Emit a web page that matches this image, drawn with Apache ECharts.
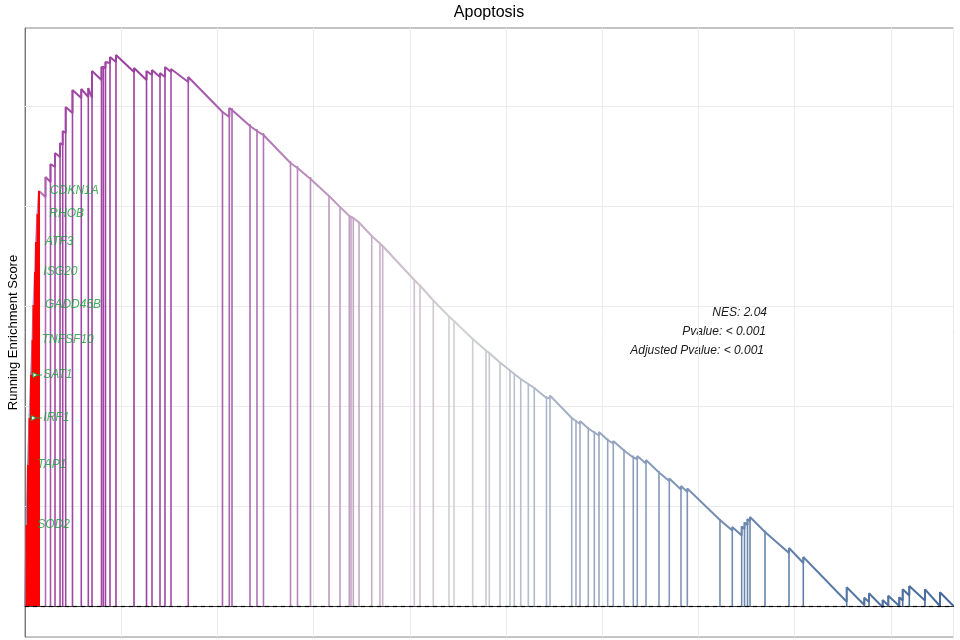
<!DOCTYPE html>
<html>
<head>
<meta charset="utf-8">
<title>Apoptosis</title>
<script src="https://cdn.jsdelivr.net/npm/echarts@6/dist/echarts.min.js"></script>
<style>
  html, body { margin: 0; padding: 0; background: #fff; }
  #main { width: 960px; height: 640px; }
</style>
</head>
<body>
<div id="main"></div>
<script>
// positions of the gene set members in the ranked list
const hitRank = [31, 62, 94, 125, 156, 177, 208, 229, 260, 291,
  426, 530, 624, 728, 784, 846, 987, 1170, 1316, 1393,
  1590, 1628, 1673, 1767, 1891, 2266, 2526, 2640, 2806, 2910,
  3035, 3394, 4105, 4247, 4303, 4677, 4822, 4957, 5519, 5664,
  5934, 6319, 6548, 6741, 6776, 6824, 6943, 7207, 7379, 7435,
  8092, 8210, 8487, 8813, 8917, 9306, 9582, 9651, 9873, 10081,
  10171, 10304, 10462, 10586, 10840, 10913, 11364, 11453, 11536, 11709,
  11834, 11931, 12112, 12228, 12451, 12644, 12727, 12908, 13178, 13392,
  13636, 13767, 14446, 14702, 14897, 14956, 15018, 15070, 15382, 15881,
  16178, 17080, 17446, 17544, 17828, 17945, 18173, 18244, 18381, 18707, 19019]
// running score just before each hit
const esPre = [0, 0.080, 0.140, 0.186, 0.229, 0.265, 0.300, 0.333, 0.363, 0.391,
  0.409, 0.424, 0.439, 0.449, 0.461, 0.473, 0.493, 0.508, 0.509, 0.508,
  0.526, 0.538, 0.538, 0.543, 0.544, 0.534, 0.526, 0.531, 0.529, 0.529,
  0.534, 0.524, 0.494, 0.489, 0.496, 0.480, 0.475, 0.471, 0.443, 0.438,
  0.427, 0.410, 0.399, 0.390, 0.3895, 0.388, 0.3835, 0.370, 0.3625, 0.360,
  0.326, 0.3205, 0.3055, 0.2895, 0.285, 0.267, 0.2555, 0.253, 0.2435, 0.2355,
  0.232, 0.227, 0.222, 0.218, 0.208, 0.208, 0.188, 0.185, 0.182, 0.1775,
  0.1735, 0.1705, 0.166, 0.1625, 0.1555, 0.1485, 0.147, 0.1425, 0.1335, 0.125,
  0.1165, 0.114, 0.086, 0.0755, 0.0705, 0.077, 0.081, 0.085, 0.074, 0.053,
  0.043, 0.0043, 0.001, 0.004, -0.0013, 0.0005, 0.000, 0.0055, 0.0105, 0.0055, 0.000]
// running score right after each hit
const esPeak = [0.081, 0.141, 0.188, 0.231, 0.266, 0.301, 0.334, 0.364, 0.392, 0.415,
  0.429, 0.442, 0.453, 0.463, 0.475, 0.499, 0.516, 0.517, 0.518, 0.535,
  0.539, 0.540, 0.544, 0.549, 0.551, 0.538, 0.535, 0.536, 0.533, 0.539,
  0.537, 0.529, 0.495, 0.498, 0.498, 0.482, 0.477, 0.473, 0.445, 0.440,
  0.429, 0.411, 0.400, 0.391, 0.390, 0.389, 0.3845, 0.371, 0.3635, 0.3605,
  0.327, 0.321, 0.306, 0.290, 0.286, 0.268, 0.256, 0.2535, 0.244, 0.236,
  0.2325, 0.2275, 0.2225, 0.219, 0.210, 0.2105, 0.189, 0.186, 0.185, 0.179,
  0.175, 0.174, 0.1675, 0.165, 0.157, 0.1505, 0.150, 0.146, 0.135, 0.1275,
  0.120, 0.1175, 0.087, 0.079, 0.0795, 0.0835, 0.087, 0.089, 0.0755, 0.058,
  0.049, 0.0187, 0.0083, 0.0127, 0.006, 0.0103, 0.0087, 0.0167, 0.020, 0.0167, 0.0137]
const rankMax = 19300
// core genes, in the order of their hits
const leadGenes = ['SOD2', 'TAP1', 'IRF1', 'SAT1', 'TNFSF10', 'GADD45B', 'ISG20', 'ATF3', 'RHOB', 'CDKN1A']
const esTicks = [0.1, 0.2, 0.3, 0.4, 0.5]
const statText = ['NES: 2.04', 'Pvalue: < 0.001', 'Adjusted Pvalue: < 0.001']

// styles
const FONT = '"Liberation Sans", Arial, Helvetica, sans-serif'
const GREEN = '#14a038'
const curveStops = [
  [0.000, '#8796b6'], [0.004, '#8796b6'], [0.013, '#c68fc8'], [0.030, '#a24aa6'],
  [0.120, '#9b3f9f'], [0.200, '#a55aab'], [0.300, '#b98abc'], [0.400, '#cbbccb'],
  [0.470, '#d3d3d3'], [0.560, '#acb6c8'], [0.650, '#8e9fbc'], [0.780, '#6a86ad'],
  [1.000, '#44699c']
]
const labelGap = [10.8, 9.3, 13.8, 12.3, 9.2, 11.5, 8.3, 9, 11.8, 11]
const arrowGenes = ['IRF1', 'SAT1']

function hexToRgb (h) {
  return [1, 3, 5].map(k => parseInt(h.substr(k, 2), 16))
}
function colorAt (t) {
  for (let k = 1; k < curveStops.length; k++) {
    if (t <= curveStops[k][0]) {
      let a = curveStops[k - 1]
      let b = curveStops[k]
      let f = (t - a[0]) / ((b[0] - a[0]) || 1)
      let ca = hexToRgb(a[1])
      let cb = hexToRgb(b[1])
      return 'rgb(' + ca.map((v, j) => Math.round(v + (cb[j] - v) * f)).join(',') + ')'
    }
  }
  return curveStops[curveStops.length - 1][1]
}

// sawtooth path: slide down to each hit, then step up
let curve = [[0, 0]]
hitRank.forEach((r, i) => {
  curve.push([r, esPre[i]])
  curve.push([r, esPeak[i]])
})
curve.push([rankMax, 0])

const nLead = leadGenes.length
let hits = hitRank.slice(nLead).map((r, i) => [r, esPeak[i + nLead]])
let leadHits = leadGenes.map((g, i) => [hitRank[i], esPeak[i], g])
let arrowIdx = leadGenes.map((g, i) => i).filter(i => arrowGenes.indexOf(leadGenes[i]) >= 0)

function hitRenderer (red) {
  return function (params, api) {
    let r = api.value(0)
    let p0 = api.coord([r, 0])
    let p1 = api.coord([r, api.value(1)])
    return {
      type: 'line',
      shape: { x1: p0[0], y1: p0[1], x2: p1[0], y2: p1[1] },
      style: red
        ? { stroke: '#ff0000', lineWidth: 2 }
        : { stroke: colorAt(r / rankMax), lineWidth: 1.6 }
    }
  }
}

// full-width horizontal rule at an ES value
function ruleRenderer (styleObj) {
  return function (params, api) {
    let a = api.coord([0, api.value(0)])
    let b = api.coord([rankMax, api.value(0)])
    return {
      type: 'line',
      shape: { x1: a[0], y1: Math.round(a[1]) + 0.5, x2: b[0], y2: Math.round(b[1]) + 0.5 },
      style: styleObj
    }
  }
}

let myChart = echarts.init(document.getElementById('main'), null, { renderer: 'canvas' })
let option = {
  animation: false,
  backgroundColor: '#fff',
  grid: {
    left: 25, right: 6.5, top: 28, bottom: 3,
    containLabel: false,
    outerBoundsMode: 'none',
    show: true, borderColor: '#888', borderWidth: 1
  },
  xAxis: {
    type: 'value',
    min: 0,
    max: rankMax,
    interval: 2000,
    axisLabel: { show: false },
    axisTick: { show: false },
    axisLine: { show: true, lineStyle: { color: '#333' } },
    splitLine: { show: true, lineStyle: { color: '#ebebeb', width: 1 } }
  },
  yAxis: {
    type: 'value',
    min: -0.031,
    max: 0.578,
    name: 'Running Enrichment Score',
    nameLocation: 'middle',
    nameGap: 5,
    nameTextStyle: { fontSize: 13, color: '#000', fontFamily: FONT },
    axisLabel: { show: false },
    axisTick: { show: false },
    axisLine: { show: true, lineStyle: { color: '#777' } },
    splitLine: { show: false }
  },
  graphic: [
    {
      type: 'text', x: 489, y: 13,
      style: { text: 'Apoptosis', fontSize: 16, fontFamily: FONT, fill: '#000', align: 'center', verticalAlign: 'middle' }
    },
    {
      type: 'text', x: 767, y: 313,
      style: { text: statText[0], fontSize: 12, fontStyle: 'italic', fontFamily: FONT, fill: '#1a1a1a', align: 'right', verticalAlign: 'middle' }
    },
    {
      type: 'text', x: 766, y: 332,
      style: { text: statText[1], fontSize: 12, fontStyle: 'italic', fontFamily: FONT, fill: '#1a1a1a', align: 'right', verticalAlign: 'middle' }
    },
    {
      type: 'text', x: 764, y: 351,
      style: { text: statText[2], fontSize: 12, fontStyle: 'italic', fontFamily: FONT, fill: '#1a1a1a', align: 'right', verticalAlign: 'middle' }
    }
  ],
  series: [
    {
      name: 'y grid',
      type: 'custom',
      z: 1,
      silent: true,
      renderItem: ruleRenderer({ stroke: '#ebebeb', lineWidth: 1 }),
      data: esTicks.map(v => [v])
    },
    {
      name: 'hits',
      type: 'custom',
      z: 2,
      renderItem: hitRenderer(false),
      data: hits
    },
    {
      name: 'running score',
      type: 'line',
      z: 3,
      data: curve,
      symbol: 'none',
      showSymbol: false,
      lineStyle: {
        width: 2,
        color: new echarts.graphic.LinearGradient(0, 0, 1, 0,
          curveStops.map(s => ({ offset: s[0], color: s[1] })))
      }
    },
    {
      name: 'core hits',
      type: 'custom',
      z: 4,
      renderItem: hitRenderer(true),
      data: leadHits
    },
    {
      name: 'zero line',
      type: 'custom',
      z: 5,
      silent: true,
      renderItem: ruleRenderer({ stroke: '#000', lineWidth: 1.2, lineDash: [4, 4] }),
      data: [[0]]
    },
    {
      name: 'label links',
      type: 'custom',
      z: 5,
      renderItem: function (params, api) {
        let i = arrowIdx[params.dataIndex]
        let p = api.coord([api.value(0), api.value(1)])
        let x = p[0]
        let y = p[1]
        return {
          type: 'group',
          children: [
            {
              type: 'line',
              shape: { x1: x + 1.5, y1: y, x2: x + labelGap[i] - 1.5, y2: y },
              style: { stroke: GREEN, lineWidth: 1 }
            },
            {
              type: 'polygon',
              shape: { points: [[x + 2, y - 2.5], [x + 2, y + 2.5], [x + 6.5, y]] },
              style: { stroke: GREEN, fill: '#fff', lineWidth: 1 }
            }
          ]
        }
      },
      data: arrowIdx.map(i => [hitRank[i], esPeak[i]])
    },
    {
      name: 'gene labels',
      type: 'scatter',
      z: 6,
      symbolSize: 0.1,
      itemStyle: { color: 'transparent' },
      silent: true,
      label: {
        show: true,
        position: 'right',
        formatter: p => p.value[2],
        color: GREEN,
        textBorderWidth: 0,
        fontStyle: 'italic',
        fontSize: 12,
        fontFamily: FONT
      },
      data: leadHits.map((d, i) => ({ value: d, label: { distance: labelGap[i] } }))
    }
  ]
}
myChart.setOption(option)
</script>
</body>
</html>
